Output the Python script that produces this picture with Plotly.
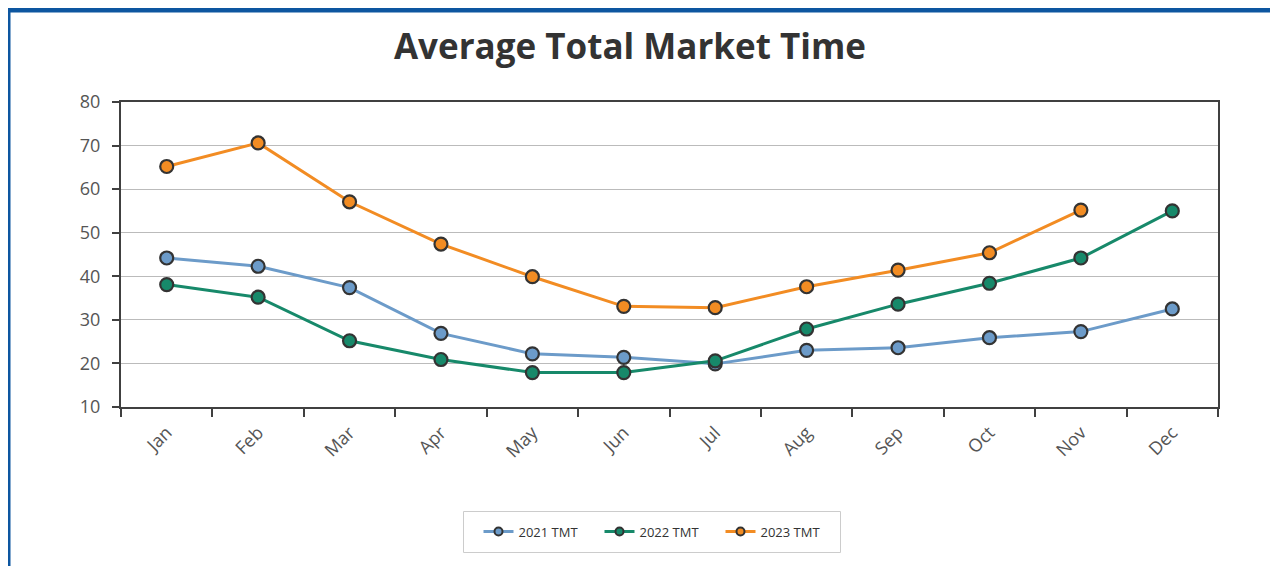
import plotly.graph_objects as go

months = ["Jan", "Feb", "Mar", "Apr", "May", "Jun", "Jul", "Aug", "Sep", "Oct", "Nov", "Dec"]
tmt_2021 = [44.2, 42.3, 37.4, 26.9, 22.2, 21.4, 19.9, 23.0, 23.6, 25.9, 27.3, 32.5]
tmt_2022 = [38.1, 35.2, 25.2, 20.9, 17.9, 17.9, 20.6, 27.9, 33.6, 38.4, 44.2, 55.0]
tmt_2023 = [65.2, 70.6, 57.1, 47.4, 39.9, 33.1, 32.8, 37.6, 41.4, 45.4, 55.2, None]

OFF = 8  # page body margin
W, H = 1278 - OFF, 566 - OFF
L, T = 121 - OFF, 102 - OFF
R = W - (1218 - OFF)
B = H - (407 - OFF)
pw, ph = W - L - R, H - T - B

def px_x(p):
    return (p - OFF - L) / pw

def px_y(p):
    return (H - B - (p - OFF)) / ph

series = [
    ("2021 TMT", tmt_2021, "#6c9bc9"),
    ("2022 TMT", tmt_2022, "#17896a"),
    ("2023 TMT", tmt_2023, "#f28c23"),
]

fig = go.Figure()
for name, vals, col in series:
    fig.add_trace(go.Scatter(
        x=months, y=vals, name=name, mode="lines+markers", showlegend=False,
        line=dict(color=col, width=3),
        marker=dict(color=col, size=13, line=dict(color="#333333", width=2.2)),
    ))
for name, vals, col in series:
    # legend entry with smaller marker
    fig.add_trace(go.Scatter(
        x=[None], y=[None], name=name, mode="lines+markers", showlegend=True,
        line=dict(color=col, width=3),
        marker=dict(color=col, size=8, line=dict(color="#333333", width=2)),
    ))

fig.update_layout(
    width=W, height=H,
    margin=dict(l=L, r=R, t=T, b=B),
    paper_bgcolor="white", plot_bgcolor="white",
    font=dict(family="Open Sans", color="#555555"),
    title=dict(text="Average Total Market Time", x=(630 - OFF) / W, xanchor="center",
               y=1 - (47 - OFF) / H, yanchor="middle",
               font=dict(size=35, weight=700, color="#333333", family="Open Sans")),
    showlegend=True,
    legend=dict(orientation="h", x=px_x(660), xanchor="center", y=px_y(531.5), yanchor="middle",
                borderwidth=0, bgcolor="rgba(0,0,0,0)",
                font=dict(size=13, color="#333333", family="Open Sans"),
                entrywidth=76, entrywidthmode="pixels", tracegroupgap=0),
    xaxis=dict(
        type="category", showgrid=False, showline=True, linecolor="#404040", linewidth=2,
        mirror=True, ticks="outside", tickson="boundaries", ticklen=8, tickwidth=1.5,
        tickcolor="#404040", tickangle=-45, tickfont=dict(size=18, color="#555555"),
        ticklabelstandoff=6, range=[-0.5, 11.5],
    ),
    yaxis=dict(
        range=[10, 80], dtick=10, showgrid=True, gridcolor="#bbbbbb", gridwidth=1,
        showline=True, linecolor="#404040", linewidth=2, mirror=True,
        ticks="outside", ticklen=7, tickwidth=1.5, tickcolor="#404040",
        tickfont=dict(size=18, color="#555555"), zeroline=False, ticklabelstandoff=8,
    ),
    shapes=[
        dict(type="rect", xref="paper", yref="paper",
             x0=px_x(463.5), x1=px_x(840.5), y0=px_y(552.5), y1=px_y(511.5),
             line=dict(color="#cccccc", width=1), layer="below"),
        dict(type="rect", xref="paper", yref="paper",
             x0=px_x(7.5), x1=px_x(1279.5), y0=px_y(600), y1=px_y(9.5),
             line=dict(color="#0d56a0", width=6), layer="above"),
    ],
)

fig.write_html("out.html")
